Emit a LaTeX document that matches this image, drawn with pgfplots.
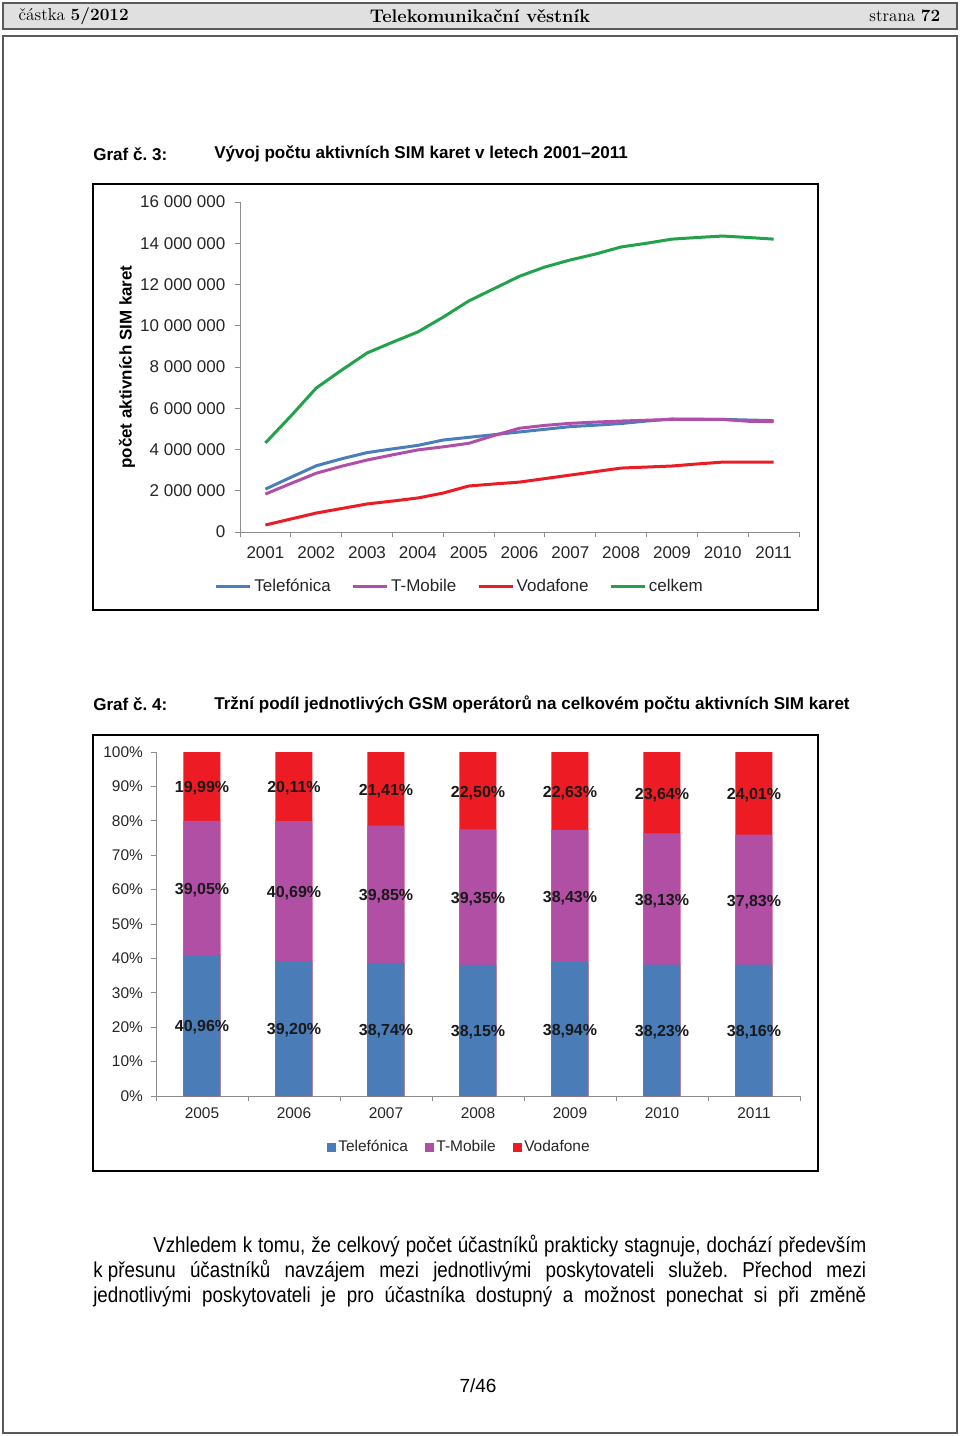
\documentclass[border=0pt]{standalone}
\usepackage{fontspec}
\usepackage{pgfplots}
\pgfplotsset{compat=1.18}
\newfontfamily\arial{Liberation Sans}
\newfontfamily\narrow[FakeStretch=0.87]{Liberation Sans}
\definecolor{cblue}{HTML}{4A7EBB}
\definecolor{cmag}{HTML}{B04FA8}
\definecolor{cred}{HTML}{EC1C24}
\definecolor{cgreen}{HTML}{22A24B}
\definecolor{bblue}{HTML}{4A7DB8}
\definecolor{bmag}{HTML}{B14FA5}
\definecolor{bred}{HTML}{ED1C24}
\definecolor{axgray}{HTML}{8C8C8C}
\frenchspacing
\begin{document}
\begin{tikzpicture}[x=0.75pt,y=0.75pt]
\path[fill=white] (0,0) rectangle (960,-1436);
% header
\draw[fill=black!12, draw=black!65, line width=1pt] (3,-3) rectangle (957,-29);
\node[anchor=west, font=\fontsize{12.9}{14}\selectfont] at (14,-16) {částka \textbf{5/2012}};
\node[font=\fontsize{13.7}{15}\selectfont] at (480,-16) {\textbf{Telekomunikační věstník}};
\node[anchor=east, font=\fontsize{12.9}{14}\selectfont] at (945,-16) {strana \textbf{72}};
\draw[draw=black!65, line width=1pt] (3,-36) rectangle (957,-1433);
% titles
\node[anchor=west, inner sep=0, font=\arial\bfseries\fontsize{12.8}{14}\selectfont] at (93,-154) {Graf č. 3:};
\node[anchor=west, inner sep=0, font=\arial\bfseries\fontsize{12.8}{14}\selectfont] at (214,-154) {Vývoj počtu aktivních SIM karet v letech 2001–2011};
\node[anchor=west, inner sep=0, font=\arial\bfseries\fontsize{12.8}{14}\selectfont] at (93,-704) {Graf č. 4:};
\node[anchor=west, inner sep=0, font=\arial\bfseries\fontsize{12.8}{14}\selectfont] at (214,-704) {Tržní podíl jednotlivých GSM operátorů na celkovém počtu aktivních SIM karet};
% chart frames
\draw[line width=1.1pt] (93,-184) rectangle (818,-610);
\draw[line width=1.1pt] (93,-735) rectangle (818,-1171);

% ---------- chart 1 ----------
\begin{axis}[at={(180pt,-399pt)}, anchor=south west, scale only axis,
  width=419.25pt, height=247.5pt,
  xmin=2000.5, xmax=2011.5, ymin=0, ymax=16000000,
  scaled y ticks=false,
  axis x line*=bottom, axis y line*=left,
  axis line style={axgray, line width=0.7pt, -},
  tick style={axgray, line width=0.7pt},
  tick align=outside, major tick length=4pt,
  xtick={2000.5,2001.5,2002.5,2003.5,2004.5,2005.5,2006.5,2007.5,2008.5,2009.5,2010.5,2011.5},
  x tick label as interval=true,
  xticklabels={2001,2002,2003,2004,2005,2006,2007,2008,2009,2010,2011},
  ytick={0,2000000,4000000,6000000,8000000,10000000,12000000,14000000,16000000},
  yticklabels={0,2 000 000,4 000 000,6 000 000,8 000 000,10 000 000,12 000 000,14 000 000,16 000 000},
  tick label style={font=\arial\fontsize{12.75}{14}\selectfont, text=black!85},
  xticklabel style={yshift=-3.5pt},
  yticklabel style={xshift=-3.5pt},
  every axis y label/.style={at={(axis description cs:-0.202,0.5)}, rotate=90, anchor=center,
     font=\arial\bfseries\fontsize{12.7}{14}\selectfont},
  ylabel={počet aktivních SIM karet},
  legend columns=4,
  legend style={at={(axis description cs:-0.053,-0.164)}, anchor=west, draw=none, fill=none,
     font=\arial\fontsize{12.75}{14}\selectfont, text=black!85,
     /tikz/every even column/.append style={column sep=13.5pt}},
  legend image code/.code={\draw[#1] (0pt,0pt) -- (25.5pt,0pt);},
  clip=false
]
\addplot[cblue, line width=2.25pt] coordinates {
(2001,2080000) (2001.5,2650000) (2002,3210000) (2002.5,3550000) (2003,3850000) (2003.5,4030000)
(2004,4200000) (2004.5,4460000) (2005,4590000) (2005.5,4720000) (2006,4850000) (2006.5,4980000)
(2007,5110000) (2007.5,5180000) (2008,5260000) (2008.5,5380000) (2009,5480000) (2009.5,5470000)
(2010,5460000) (2010.5,5430000) (2011,5400000)};
\addlegendentry{Telefónica}
\addplot[cmag, line width=2.25pt] coordinates {
(2001,1840000) (2001.5,2350000) (2002,2850000) (2002.5,3190000) (2003,3490000) (2003.5,3740000)
(2004,3980000) (2004.5,4130000) (2005,4300000) (2005.5,4680000) (2006,5030000) (2006.5,5170000)
(2007,5270000) (2007.5,5330000) (2008,5380000) (2008.5,5420000) (2009,5460000) (2009.5,5460000)
(2010,5460000) (2010.5,5370000) (2011,5350000)};
\addlegendentry{T-Mobile}
\addplot[cred, line width=2.25pt] coordinates {
(2001,340000) (2001.5,630000) (2002,920000) (2002.5,1140000) (2003,1360000) (2003.5,1500000)
(2004,1650000) (2004.5,1890000) (2005,2230000) (2005.5,2330000) (2006,2420000) (2006.5,2590000)
(2007,2760000) (2007.5,2930000) (2008,3100000) (2008.5,3150000) (2009,3200000) (2009.5,3300000)
(2010,3390000) (2010.5,3390000) (2011,3390000)};
\addlegendentry{Vodafone}
\addplot[cgreen, line width=2.25pt] coordinates {
(2001,4320000) (2001.5,5620000) (2002,6980000) (2002.5,7850000) (2003,8680000) (2003.5,9200000)
(2004,9700000) (2004.5,10420000) (2005,11200000) (2005.5,11800000) (2006,12400000) (2006.5,12850000)
(2007,13190000) (2007.5,13480000) (2008,13820000) (2008.5,14000000) (2009,14200000) (2009.5,14280000)
(2010,14350000) (2010.5,14280000) (2011,14200000)};
\addlegendentry{celkem}
\end{axis}

% ---------- chart 2 ----------
\begin{axis}[at={(117pt,-822pt)}, anchor=south west, scale only axis,
  width=483pt, height=258pt,
  xmin=-0.5, xmax=6.5, ymin=0, ymax=100,
  axis x line*=bottom, axis y line*=left,
  axis line style={axgray, line width=0.7pt, -},
  tick style={axgray, line width=0.7pt},
  tick align=outside, major tick length=4pt,
  xtick={-0.5,0.5,1.5,2.5,3.5,4.5,5.5,6.5},
  x tick label as interval=true,
  xticklabels={2005,2006,2007,2008,2009,2010,2011},
  ytick={0,10,20,30,40,50,60,70,80,90,100},
  yticklabels={0\%,10\%,20\%,30\%,40\%,50\%,60\%,70\%,80\%,90\%,100\%},
  tick label style={font=\arial\fontsize{11.6}{13}\selectfont, text=black!85},
  xticklabel style={yshift=-1.5pt},
  yticklabel style={xshift=-2.25pt},
  legend columns=3,
  legend style={at={(axis description cs:0.259,-0.148)}, anchor=west, draw=none, fill=none,
     font=\arial\fontsize{11.6}{13}\selectfont, text=black!85,
     /tikz/every even column/.append style={column sep=11pt}},
  legend image code/.code={\fill[#1] (0pt,-3pt) rectangle (6pt,3pt);},
  clip=false
]
\addlegendimage{bblue}
\addlegendentry{Telefónica}
\addlegendimage{bmag}
\addlegendentry{T-Mobile}
\addlegendimage{bred}
\addlegendentry{Vodafone}
% Vodafone on top: cumulative 100
\addplot[ybar, bar width=27.75pt, bar shift=0pt, fill=bred, draw=none, forget plot] coordinates {
(0,100) (1,100) (2,100) (3,100) (4,100) (5,100) (6,100)};
% T-Mobile: Telefonica + T-Mobile
\addplot[ybar, bar width=27.75pt, bar shift=0pt, fill=bmag, draw=none, forget plot] coordinates {
(0,80.01) (1,79.89) (2,78.59) (3,77.50) (4,77.37) (5,76.36) (6,75.99)};
% Telefonica
\addplot[ybar, bar width=27.75pt, bar shift=0pt, fill=bblue, draw=none, forget plot] coordinates {
(0,40.96) (1,39.20) (2,38.74) (3,38.15) (4,38.94) (5,38.23) (6,38.16)};
% labels at segment centres
\addplot[draw=none, mark=none, forget plot, point meta=explicit symbolic,
  nodes near coords={\pgfplotspointmeta\%}, nodes near coords align=center,
  every node near coord/.append style={font=\arial\bfseries\fontsize{12}{13}\selectfont, text=black!90, yshift=-1.5pt}]
  table[meta=l] {
x y l
0 20.48 40,96
1 19.60 39,20
2 19.37 38,74
3 19.08 38,15
4 19.47 38,94
5 19.12 38,23
6 19.08 38,16
0 60.49 39,05
1 59.55 40,69
2 58.67 39,85
3 57.83 39,35
4 58.16 38,43
5 57.30 38,13
6 57.08 37,83
0 90.01 19,99
1 89.95 20,11
2 89.30 21,41
3 88.75 22,50
4 88.69 22,63
5 88.18 23,64
6 88.00 24,01
};
\end{axis}

% paragraph
\node[anchor=base west, inner sep=0] at (153,-1252) {\narrow\fontsize{16.2}{18.75}\selectfont\makebox[534.75pt][s]{Vzhledem k tomu, že celkový počet účastníků prakticky stagnuje, dochází především}};
\node[anchor=base west, inner sep=0] at (93,-1277) {\narrow\fontsize{16.2}{18.75}\selectfont\makebox[579.75pt][s]{\mbox{k přesunu} účastníků navzájem mezi jednotlivými poskytovateli služeb. Přechod mezi}};
\node[anchor=base west, inner sep=0] at (93,-1302) {\narrow\fontsize{16.2}{18.75}\selectfont\makebox[579.75pt][s]{jednotlivými poskytovateli je pro účastníka dostupný a možnost ponechat si při změně}};
\node[font=\arial\fontsize{14.25}{16}\selectfont] at (478,-1386) {7/46};
\end{tikzpicture}
\end{document}
